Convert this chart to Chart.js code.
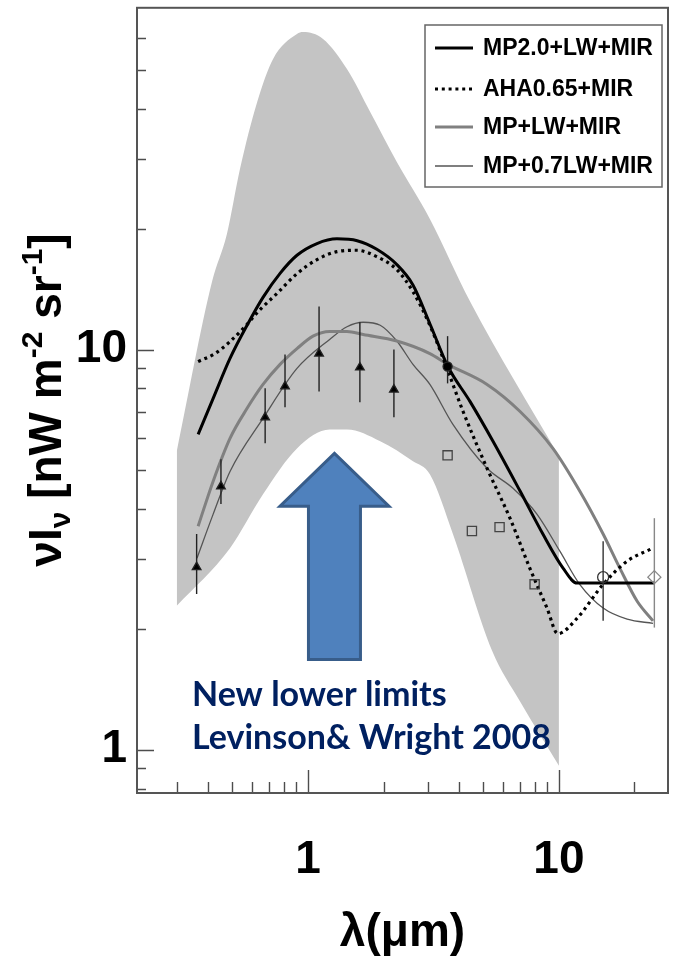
<!DOCTYPE html>
<html>
<head>
<meta charset="utf-8">
<script src="https://cdn.jsdelivr.net/npm/chart.js@4/dist/chart.umd.min.js"></script>
<style>
  html, body { margin: 0; padding: 0; background: #fff; }
  canvas { display: block; }
</style>
</head>
<body>
<canvas id="sedChart" width="681" height="956"></canvas>
<script>
// axis limits (micron, nW m^-2 sr^-1)
const xRange = [0.2083, 27.2];
const yRange = [0.78, 71.4];
const xTickLabels = [1, 10];
const yTickLabels = [1, 10];
const xMinorTicks = [0.3, 0.4, 0.5, 0.6, 0.7, 0.8, 0.9, 2, 3, 4, 5, 6, 7, 8, 9, 20];
const yMinorTicks = [0.8, 0.9, 2, 3, 4, 5, 6, 7, 8, 9, 20, 30, 40, 50, 60];

// allowed region (grey band)
const bandUpperX = [0.3, 0.415, 0.475, 0.536, 0.627, 0.726, 0.904, 0.955, 1.148, 1.43, 1.77, 2.26, 3.06, 4.42, 10];
const bandUpperY = [5.57, 14.8, 19.4, 28.3, 41.5, 53.2, 61.4, 62.1, 59.7, 50.2, 39.2, 29.4, 21.2, 13.2, 5.41];
const bandLowerX = [0.3, 0.489, 0.662, 0.904, 1.22, 1.43, 1.94, 2.62, 3.06, 3.78, 5.41, 7.0, 10];
const bandLowerY = [2.29, 3.19, 4.35, 5.66, 6.31, 6.31, 5.90, 5.26, 4.88, 3.46, 1.77, 1.32, 0.912];

// model curves
const mp20X = [0.365, 0.419, 0.489, 0.572, 0.662, 0.774, 0.904, 1.086, 1.305, 1.57, 1.88, 2.26, 2.62, 3.06, 3.61, 4.42, 5.46, 7.0, 8.63, 10.4, 11.8, 24.1];
const mp20Y = [6.14, 7.55, 9.5, 11.5, 13.5, 15.5, 17.2, 18.4, 18.9, 18.7, 17.8, 16.3, 14.5, 11.6, 9.07, 7.42, 5.90, 4.43, 3.46, 2.84, 2.61, 2.61];

const ahaX = [0.365, 0.426, 0.489, 0.561, 0.644, 0.752, 0.904, 1.086, 1.305, 1.57, 1.88, 2.26, 2.62, 3.06, 3.58, 4.15, 5.17, 6.38, 7.66, 8.96, 9.9, 11.8, 15.0, 18.7, 23.7];
const ahaY = [9.33, 9.77, 10.47, 11.41, 12.58, 13.8, 15.47, 16.77, 17.56, 17.7, 17.06, 15.83, 13.95, 11.5, 8.97, 7.0, 5.05, 3.79, 2.84, 2.26, 1.95, 2.13, 2.59, 2.96, 3.19];

const mpLwX = [0.365, 0.419, 0.489, 0.572, 0.662, 0.774, 0.904, 1.047, 1.22, 1.43, 1.66, 2.26, 3.06, 3.61, 5.17, 7.0, 9.46, 12.1, 15.0, 17.5, 20.5, 23.7];
const mpLwY = [3.62, 4.69, 6.0, 7.13, 8.18, 9.18, 10.05, 10.8, 11.1, 11.1, 10.9, 10.5, 9.77, 9.18, 8.18, 7.0, 5.66, 4.43, 3.46, 2.84, 2.35, 2.10];

const mp07X = [0.361, 0.419, 0.489, 0.662, 0.904, 1.22, 1.43, 1.66, 1.94, 2.26, 2.62, 3.06, 3.78, 5.17, 6.56, 8.17, 10.1, 12.1, 15.0, 18.7, 23.7];
const mp07Y = [3.01, 3.88, 4.96, 6.73, 8.97, 10.6, 11.4, 11.7, 11.5, 10.5, 9.18, 8.18, 6.50, 5.05, 4.50, 3.88, 3.13, 2.59, 2.26, 2.12, 2.07];

const legendLabels = ["MP2.0+LW+MIR", "AHA0.65+MIR", "MP+LW+MIR", "MP+0.7LW+MIR"];

// measurements
const triX = [0.36, 0.45, 0.675, 0.81, 1.107, 1.61, 2.2];
const triY = [2.86, 4.55, 6.77, 8.09, 9.77, 9.02, 7.94];
const triLo = [2.45, 4.11, 5.83, 7.17, 7.85, 7.38, 6.77];
const triHi = [3.46, 5.32, 8.0, 9.72, 12.8, 11.7, 10.0];

const sqX = [3.6, 4.5, 5.8, 8.0];
const sqY = [5.44, 3.52, 3.60, 2.59];

const dotX = [3.6];
const dotY = [9.07];
const dotLo = [8.23];
const dotHi = [10.8];

const circX = [15];
const circY = [2.70];
const circLo = [2.10];
const circHi = [3.32];

const diaX = [24];
const diaY = [2.70];
const diaLo = [2.02];
const diaHi = [3.79];

// annotation
const noteLines = ["New lower limits", "Levinson& Wright 2008"];

const FONT = '"Liberation Sans", Arial, sans-serif';

const makePoints = (xs, ys) => xs.map((x, i) => ({ x, y: ys[i] }));

function curve(label, xs, ys, color, width, dash, order) {
  return {
    label: label,
    data: makePoints(xs, ys),
    borderColor: color,
    borderWidth: width,
    borderDash: dash,
    borderCapStyle: 'butt',
    pointRadius: 0,
    cubicInterpolationMode: 'monotone',
    fill: false,
    order: order
  };
}

function markers(xs, ys, style, radius, fillColor, lineColor, lo, hi) {
  return {
    data: makePoints(xs, ys),
    showLine: false,
    pointStyle: style,
    pointRadius: radius,
    pointBackgroundColor: fillColor,
    pointBorderColor: lineColor,
    pointBorderWidth: 1.3,
    errLo: lo,
    errHi: hi,
    errColor: lineColor,
    order: 1
  };
}

// axis boxes keep a fixed size, no extra room for label overhang
function fixBox(scale, w, h) {
  if (w) scale.width = w;
  if (h) scale.height = h;
  scale.paddingTop = 0;
  scale.paddingBottom = 0;
  scale.paddingLeft = 0;
  scale.paddingRight = 0;
}

// error bars go under the symbols of their own dataset
const errorBarPlugin = {
  id: 'errorBars',
  beforeDatasetDraw(chart, args) {
    const ds = chart.data.datasets[args.index];
    if (!ds.errLo) return;
    const { ctx, scales: { x, y } } = chart;
    ctx.save();
    ctx.strokeStyle = ds.errColor;
    ctx.lineWidth = 1.4;
    ctx.beginPath();
    ds.data.forEach((p, i) => {
      const px = x.getPixelForValue(p.x);
      ctx.moveTo(px, y.getPixelForValue(ds.errHi[i]));
      ctx.lineTo(px, y.getPixelForValue(ds.errLo[i]));
    });
    ctx.stroke();
    ctx.restore();
  }
};

// blue arrow + caption
const arrowSpec = { x: 1.275, tipY: 5.50, headY: 4.06, tailY: 1.68, headHalf: 54.5, shaftHalf: 26 };
const noteSpec = { x: 0.345, baselines: [1.287, 1.006] };

const annotationPlugin = {
  id: 'note',
  afterDatasetsDraw(chart) {
    const { ctx, scales: { x, y } } = chart;
    const ax = x.getPixelForValue(arrowSpec.x);
    const tip = y.getPixelForValue(arrowSpec.tipY);
    const head = y.getPixelForValue(arrowSpec.headY);
    const tail = y.getPixelForValue(arrowSpec.tailY);
    const h = arrowSpec.headHalf, s = arrowSpec.shaftHalf;
    ctx.save();
    ctx.beginPath();
    ctx.moveTo(ax, tip);
    ctx.lineTo(ax + h, head);
    ctx.lineTo(ax + s, head);
    ctx.lineTo(ax + s, tail);
    ctx.lineTo(ax - s, tail);
    ctx.lineTo(ax - s, head);
    ctx.lineTo(ax - h, head);
    ctx.closePath();
    ctx.fillStyle = '#4f81bd';
    ctx.fill();
    ctx.lineWidth = 3;
    ctx.lineJoin = 'miter';
    ctx.strokeStyle = '#385d8a';
    ctx.stroke();

    ctx.fillStyle = '#002060';
    ctx.font = 'bold 34px Lato, "Open Sans", sans-serif';
    ctx.textAlign = 'left';
    ctx.textBaseline = 'alphabetic';
    const tx = x.getPixelForValue(noteSpec.x);
    noteLines.forEach((line, i) => {
      ctx.fillText(line, tx, y.getPixelForValue(noteSpec.baselines[i]));
    });
    ctx.restore();
  }
};

// inward ticks, closed frame, legend box and the rotated y title
const framePlugin = {
  id: 'frame',
  afterDraw(chart) {
    const { ctx, chartArea: a, scales: { x, y } } = chart;
    ctx.save();
    ctx.strokeStyle = '#4d4d4d';
    ctx.lineWidth = 1.4;
    ctx.beginPath();
    xMinorTicks.forEach(v => {
      const px = Math.round(x.getPixelForValue(v)) + 0.5;
      ctx.moveTo(px, a.bottom); ctx.lineTo(px, a.bottom - 11);
    });
    xTickLabels.forEach(v => {
      const px = Math.round(x.getPixelForValue(v)) + 0.5;
      ctx.moveTo(px, a.bottom); ctx.lineTo(px, a.bottom - 23);
    });
    yMinorTicks.forEach(v => {
      const py = Math.round(y.getPixelForValue(v)) + 0.5;
      ctx.moveTo(a.left, py); ctx.lineTo(a.left + 9, py);
    });
    yTickLabels.forEach(v => {
      const py = Math.round(y.getPixelForValue(v)) + 0.5;
      ctx.moveTo(a.left, py); ctx.lineTo(a.left + 17, py);
    });
    ctx.stroke();
    ctx.lineWidth = 2;
    ctx.strokeStyle = '#555';
    ctx.strokeRect(a.left, a.top, a.right - a.left, a.bottom - a.top);

    // legend
    const box = { left: 425, top: 25, right: 662, bottom: 187 };
    ctx.fillStyle = '#fff';
    ctx.fillRect(box.left, box.top, box.right - box.left, box.bottom - box.top);
    ctx.lineWidth = 1.5;
    ctx.strokeStyle = '#666';
    ctx.strokeRect(box.left, box.top, box.right - box.left, box.bottom - box.top);
    const rows = [48, 89, 127, 166];
    ctx.font = 'bold 23px ' + FONT;
    ctx.textBaseline = 'middle';
    ctx.textAlign = 'left';
    legendLabels.forEach((label, i) => {
      const ds = chart.data.datasets.find(d => d.label === label);
      ctx.beginPath();
      ctx.strokeStyle = ds.borderColor;
      ctx.lineWidth = ds.borderWidth;
      ctx.setLineDash(ds.borderDash);
      ctx.moveTo(435, rows[i]);
      ctx.lineTo(473, rows[i]);
      ctx.stroke();
      ctx.setLineDash([]);
      ctx.fillStyle = '#000';
      ctx.fillText(label, 483, rows[i] + 1);
    });

    // y axis title with sub/superscripts
    const big = 'bold 46px ' + FONT;
    const small = 'bold 30px ' + FONT;
    const parts = [
      { t: 'ν', f: big, dy: 0 },
      { t: 'I', f: big, dy: 0 },
      { t: 'ν', f: small, dy: 9 },
      { t: ' [nW m', f: big, dy: 0 },
      { t: '-2', f: small, dy: -19 },
      { t: ' sr', f: big, dy: 0 },
      { t: '-1', f: small, dy: -19 },
      { t: ']', f: big, dy: 0 }
    ];
    let total = 0;
    parts.forEach(p => { ctx.font = p.f; p.w = ctx.measureText(p.t).width; total += p.w; });
    ctx.translate(61, 400 + total / 2);
    ctx.rotate(-Math.PI / 2);
    ctx.fillStyle = '#000';
    ctx.textBaseline = 'alphabetic';
    let cx = 0;
    parts.forEach(p => { ctx.font = p.f; ctx.fillText(p.t, cx, p.dy); cx += p.w; });
    ctx.restore();
  }
};

const ctx = document.getElementById("sedChart").getContext("2d");

new Chart(ctx, {
  type: 'line',
  data: {
    datasets: [
      {
        data: makePoints(bandUpperX, bandUpperY),
        borderWidth: 0,
        backgroundColor: 'rgb(196,196,196)',
        pointRadius: 0,
        cubicInterpolationMode: 'monotone',
        fill: '+1',
        order: 10
      },
      {
        data: makePoints(bandLowerX, bandLowerY),
        borderWidth: 0,
        pointRadius: 0,
        cubicInterpolationMode: 'monotone',
        fill: false,
        order: 10
      },
      curve(legendLabels[3], mp07X, mp07Y, '#555555', 1.3, [], 6),
      curve(legendLabels[2], mpLwX, mpLwY, '#808080', 3, [], 5),
      curve(legendLabels[1], ahaX, ahaY, '#000000', 3.2, [3, 3.8], 4),
      curve(legendLabels[0], mp20X, mp20Y, '#000000', 3, [], 3),
      markers(triX, triY, 'triangle', 5, '#000', '#222', triLo, triHi),
      markers(sqX, sqY, 'rect', 6.5, 'rgba(0,0,0,0)', '#444', null, null),
      markers(dotX, dotY, 'circle', 4.5, '#000', '#222', dotLo, dotHi),
      markers(circX, circY, 'circle', 5.5, 'rgba(0,0,0,0)', '#333', circLo, circHi),
      markers(diaX, diaY, 'rectRot', 6.5, 'rgba(0,0,0,0)', '#888', diaLo, diaHi)
    ]
  },
  options: {
    responsive: false,
    animation: false,
    devicePixelRatio: 1,
    layout: { padding: { top: 6, right: 13, left: 0, bottom: 0 } },
    plugins: {
      legend: { display: false },
      tooltip: { enabled: false }
    },
    scales: {
      x: {
        type: 'logarithmic',
        min: xRange[0],
        max: xRange[1],
        grid: { display: false, drawTicks: false },
        border: { display: false },
        ticks: {
          autoSkip: false,
          maxRotation: 0,
          padding: 40,
          color: '#000',
          font: { family: FONT, size: 46, weight: 'bold' },
          callback: v => xTickLabels.includes(v) ? String(v) : ''
        },
        title: {
          display: true,
          text: 'λ(μm)',
          color: '#000',
          padding: { top: 0, bottom: 0 },
          font: { family: FONT, size: 46, weight: 'bold', lineHeight: 1 }
        },
        afterFit: scale => fixBox(scale, 0, 163)
      },
      y: {
        type: 'logarithmic',
        min: yRange[0],
        max: yRange[1],
        grid: { display: false, drawTicks: false },
        border: { display: false },
        ticks: {
          autoSkip: false,
          padding: 10,
          color: '#000',
          font: { family: FONT, size: 46, weight: 'bold' },
          callback: v => yTickLabels.includes(v) ? String(v) : ''
        },
        afterFit: scale => fixBox(scale, 137, 0)
      }
    }
  },
  plugins: [errorBarPlugin, annotationPlugin, framePlugin]
});
</script>
</body>
</html>
